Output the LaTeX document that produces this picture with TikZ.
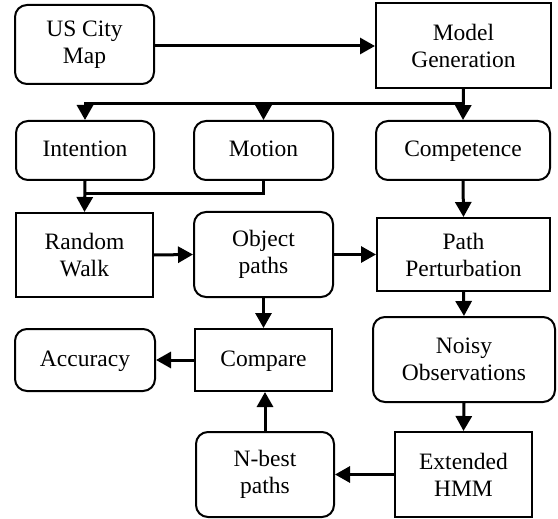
\documentclass[tikz,border=0pt]{standalone}
\usepackage{fontspec}
\setmainfont{Liberation Serif}
\usetikzlibrary{arrows.meta, positioning, calc}

\begin{document}
\begin{tikzpicture}[x=1pt, y=-1pt, >={Triangle[length=15pt, width=16pt]},
  box/.style={draw, line width=2pt, align=center, inner sep=0pt,
    font=\rmfamily\fontsize{23.5}{27}\selectfont},
  rbox/.style={box, rounded corners=12pt},
  oneline/.style={text height=17pt, text depth=5pt},
  flow/.style={->, line width=3pt}]
  \useasboundingbox (0,0) rectangle (558,519);

  % top row
  \node[rbox, minimum width=139pt, minimum height=79pt] (citymap) at (84.5,44.5) {US City\\Map};
  \node[box, minimum width=175pt, minimum height=85pt] (modelgen) at (463.5,45.5) {Model\\Generation};

  % model parts
  \node[rbox, oneline, minimum width=138pt, minimum height=59pt] (intention) at (85,150.5) {Intention};
  \node[rbox, oneline, minimum width=139pt, minimum height=59pt] (motion) at (263.5,150.5) {Motion};
  \node[rbox, oneline, minimum width=174pt, minimum height=59pt] (competence) at (463,150.5) {Competence};

  % path generation
  \node[box, minimum width=137pt, minimum height=84pt] (randwalk) at (84.5,255) {Random\\Walk};
  \node[rbox, minimum width=139pt, minimum height=85pt] (objpaths) at (263.5,254.5) {Object\\paths};
  \node[box, minimum width=173pt, minimum height=73pt] (perturb) at (463.5,254.5) {Path\\Perturbation};

  % evaluation
  \node[rbox, oneline, minimum width=140pt, minimum height=62pt] (accuracy) at (85,360) {Accuracy};
  \node[box, oneline, minimum width=137pt, minimum height=62pt] (compare) at (263.5,360) {Compare};
  \node[rbox, minimum width=182pt, minimum height=85pt] (noisy) at (464,359.5) {Noisy\\Observations};

  % tracking
  \node[rbox, minimum width=138pt, minimum height=85pt] (nbest) at (265,474.5) {N-best\\paths};
  \node[box, minimum width=137pt, minimum height=85pt] (hmm) at (463.5,474.5) {Extended\\HMM};

  \coordinate (bus) at (modelgen.south |- 0,104);
  \coordinate (join) at (intention.south |- 0,194);

  % connectors
  \draw[flow] (citymap.east |- 0,46) -- (modelgen.west |- 0,46);
  \draw[flow] (modelgen.south) -- (competence.north);
  \draw[flow] (bus) -| (intention.north);
  \draw[flow] (bus -| motion.north) -- (motion.north);
  \draw[line width=3pt] (motion.south) |- (join);
  \draw[flow] (intention.south) -- (randwalk.north);
  \draw[flow] (randwalk.east) -- (objpaths.west);
  \draw[flow] (objpaths.east) -- (perturb.west);
  \draw[flow] (objpaths.south) -- (compare.north);
  \draw[flow] (compare.west) -- (accuracy.east);
  \draw[flow] (competence.south) -- (perturb.north);
  \draw[flow] (perturb.south) -- (noisy.north);
  \draw[flow] (noisy.south) -- (hmm.north);
  \draw[flow] (hmm.west) -- (nbest.east);
  \draw[flow] (nbest.north) -- (nbest.north |- compare.south);
\end{tikzpicture}
\end{document}
